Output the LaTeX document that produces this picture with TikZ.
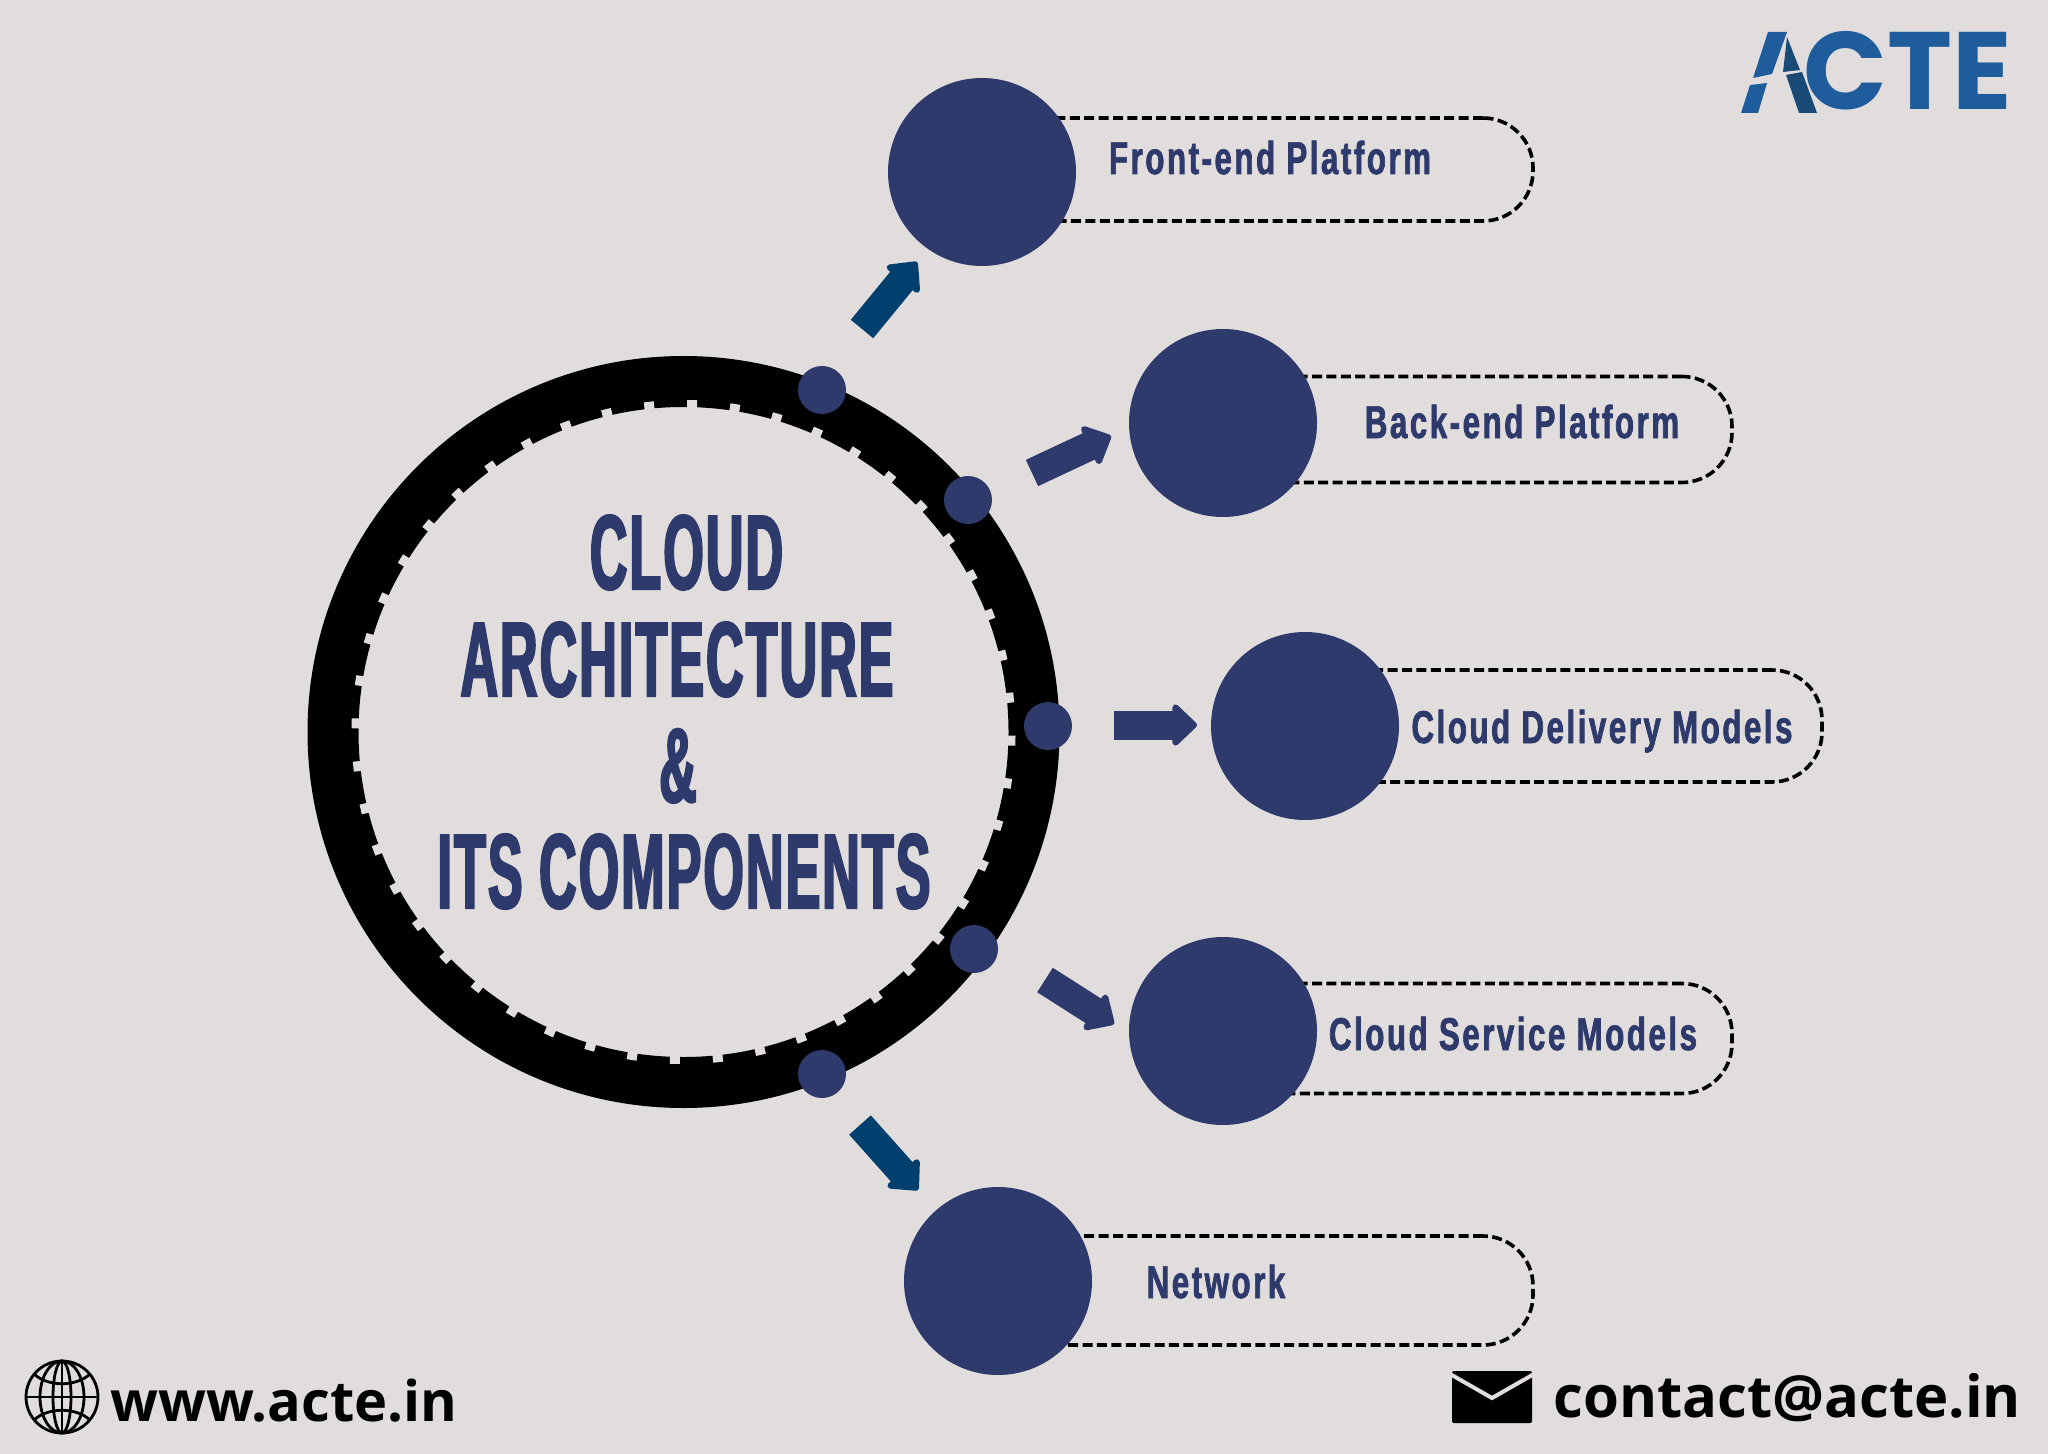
\documentclass[tikz,border=0pt]{standalone}
\usepackage{fontspec}
\usepackage{tikz}
\usetikzlibrary{arrows.meta}
\setmainfont{Open Sans}
\newfontfamily\headfont[FakeStretch=0.49,FakeBold=2,LetterSpace=2]{Liberation Sans}
\newfontfamily\itemfont[FakeStretch=0.68,FakeBold=1.5,LetterSpace=5.5]{Liberation Sans}
\newfontfamily\logofont{Poppins}
\definecolor{paper}{HTML}{E1DDDD}
\definecolor{navy}{HTML}{2D3A6B}
\definecolor{deepblue}{HTML}{003F6E}
\definecolor{logoblue}{HTML}{1F5C9B}
\definecolor{logodark}{HTML}{1A4B77}
\tikzset{
  ringnode/.style={circle,draw=black,line width=25.5pt,minimum size=350.5pt,inner sep=0pt},
  ringtick/.style={draw=paper,line width=5pt},
  dotnode/.style={circle,fill=navy,minimum size=24pt,inner sep=0pt},
  bignode/.style={circle,fill=navy,minimum size=94pt,inner sep=0pt},
  pillnode/.style={draw=black,dash pattern=on 5pt off 2.2pt,line width=1.8pt,rounded corners=25pt,inner sep=0pt},
  headline/.style={text=navy,font=\headfont\bfseries\fontsize{53}{53}\selectfont,inner sep=0pt,anchor=base},
  itemlabel/.style={text=navy,font=\itemfont\bfseries\fontsize{23}{23}\selectfont,inner sep=0pt,anchor=base},
  blockarrow/.style={line width=14.5pt,-{Triangle[length=13pt,width=24pt,round,line width=3pt]}},
  footertext/.style={text=black,font=\bfseries\fontsize{#1}{#1}\selectfont,inner sep=0pt,anchor=base west},
  globeline/.style={draw=black,line width=1.4pt}
}
\begin{document}
\begin{tikzpicture}[x=0.5pt,y=-0.5pt]
\useasboundingbox[fill=paper] (0,0) rectangle (2048,1454);
% ring
\node[ringnode] (ring) at (683.5,732) {};
\foreach \a in {1.5,9,...,360} \draw[ringtick] (ring.center) ++(\a:320) -- ++(\a:12);
% small dots on the ring
\foreach \n/\x/\y in {d1/822/390,d2/968/500,d3/1048/726,d4/974/949,d5/822/1074} \node[dotnode] (\n) at (\x,\y) {};
% arrows
\foreach \n/\x/\y in {s1/862/329,e1/917/262,s2/1032/473,e2/1111/436,s3/1114/725,e3/1197/725,s4/1045/980,e4/1114/1024,s5/860/1125,e5/918/1190} \coordinate (\n) at (\x,\y);
\draw[blockarrow,deepblue] (s1) -- (e1);
\draw[blockarrow,navy] (s2) -- (e2);
\draw[blockarrow,navy] (s3) -- (e3);
\draw[blockarrow,navy] (s4) -- (e4);
\draw[blockarrow,deepblue] (s5) -- (e5);
% pills, circles over them
\node[pillnode,minimum width=275pt,minimum height=51.5pt] (p1) at (1258,169.5) {};
\node[pillnode,minimum width=255pt,minimum height=53pt] (p2) at (1477,429.5) {};
\node[pillnode,minimum width=258pt,minimum height=56pt] (p3) at (1564,726) {};
\node[pillnode,minimum width=255pt,minimum height=55pt] (p4) at (1477,1038.5) {};
\node[pillnode,minimum width=267pt,minimum height=54.5pt] (p5) at (1266,1290.5) {};
\foreach \n/\x/\y in {c1/982/172,c2/1223/423,c3/1305/726,c4/1223/1031,c5/998/1281} \node[bignode] (\n) at (\x,\y) {};
% labels
\node[itemlabel] (l1) at (1270,174) {Front-end Platform};
\node[itemlabel] (l2) at (1522,438) {Back-end Platform};
\node[itemlabel] (l3) at (1602,743) {Cloud Delivery Models};
\node[itemlabel] (l4) at (1513,1050) {Cloud Service Models};
\node[itemlabel] (l5) at (1216,1298) {Network};
% title
\node[headline] (t1) at (686.5,589) {CLOUD};
\node[headline] (t2) at (677,696) {ARCHITECTURE};
\node[headline] (t3) at (678,802) {\&};
\node[headline] (t4) at (684,908) {ITS COMPONENTS};
% logo
\node[text=logoblue,font=\logofont\bfseries\fontsize{55}{55}\selectfont,inner sep=0pt,anchor=base east] (logo) at (2012,110) {{\color{paper}A}CTE};
\fill[logoblue] (1768,32) -- (1787,32) -- (1772,74) -- (1753,78) -- cycle;
\fill[logoblue] (1750,85) -- (1767,83) -- (1758,113) -- (1741,113) -- cycle;
\fill[logodark] (1787,37) -- (1800,70) -- (1783,72) -- cycle;
\fill[logodark] (1786,75) -- (1802,72) -- (1817,113) -- (1799,113) -- cycle;
% globe
\node[circle,globeline,minimum size=36pt,inner sep=0pt] (globe) at (62,1397) {};
\draw[globeline] (globe.west) -- (globe.east) (globe.north) -- (globe.south);
\draw[globeline] (globe.center) ellipse (9 and 36);
\draw[globeline] (globe.center) ellipse (22 and 36);
\draw[globeline] (34,1374) .. controls (48,1387) and (76,1387) .. (90,1374);
\draw[globeline] (34,1420) .. controls (48,1407) and (76,1407) .. (90,1420);
\node[footertext=28] (site) at (110,1421) {www.acte.in};
% envelope
\node[fill=black,rounded corners=1pt,minimum width=40pt,minimum height=26pt,inner sep=0pt] (env) at (1492,1397) {};
\draw[paper,line width=2pt] (1450,1374) -- (1492,1398) -- (1534,1374);
\node[footertext=29] (mail) at (1553,1417) {contact@acte.in};
\end{tikzpicture}
\end{document}
